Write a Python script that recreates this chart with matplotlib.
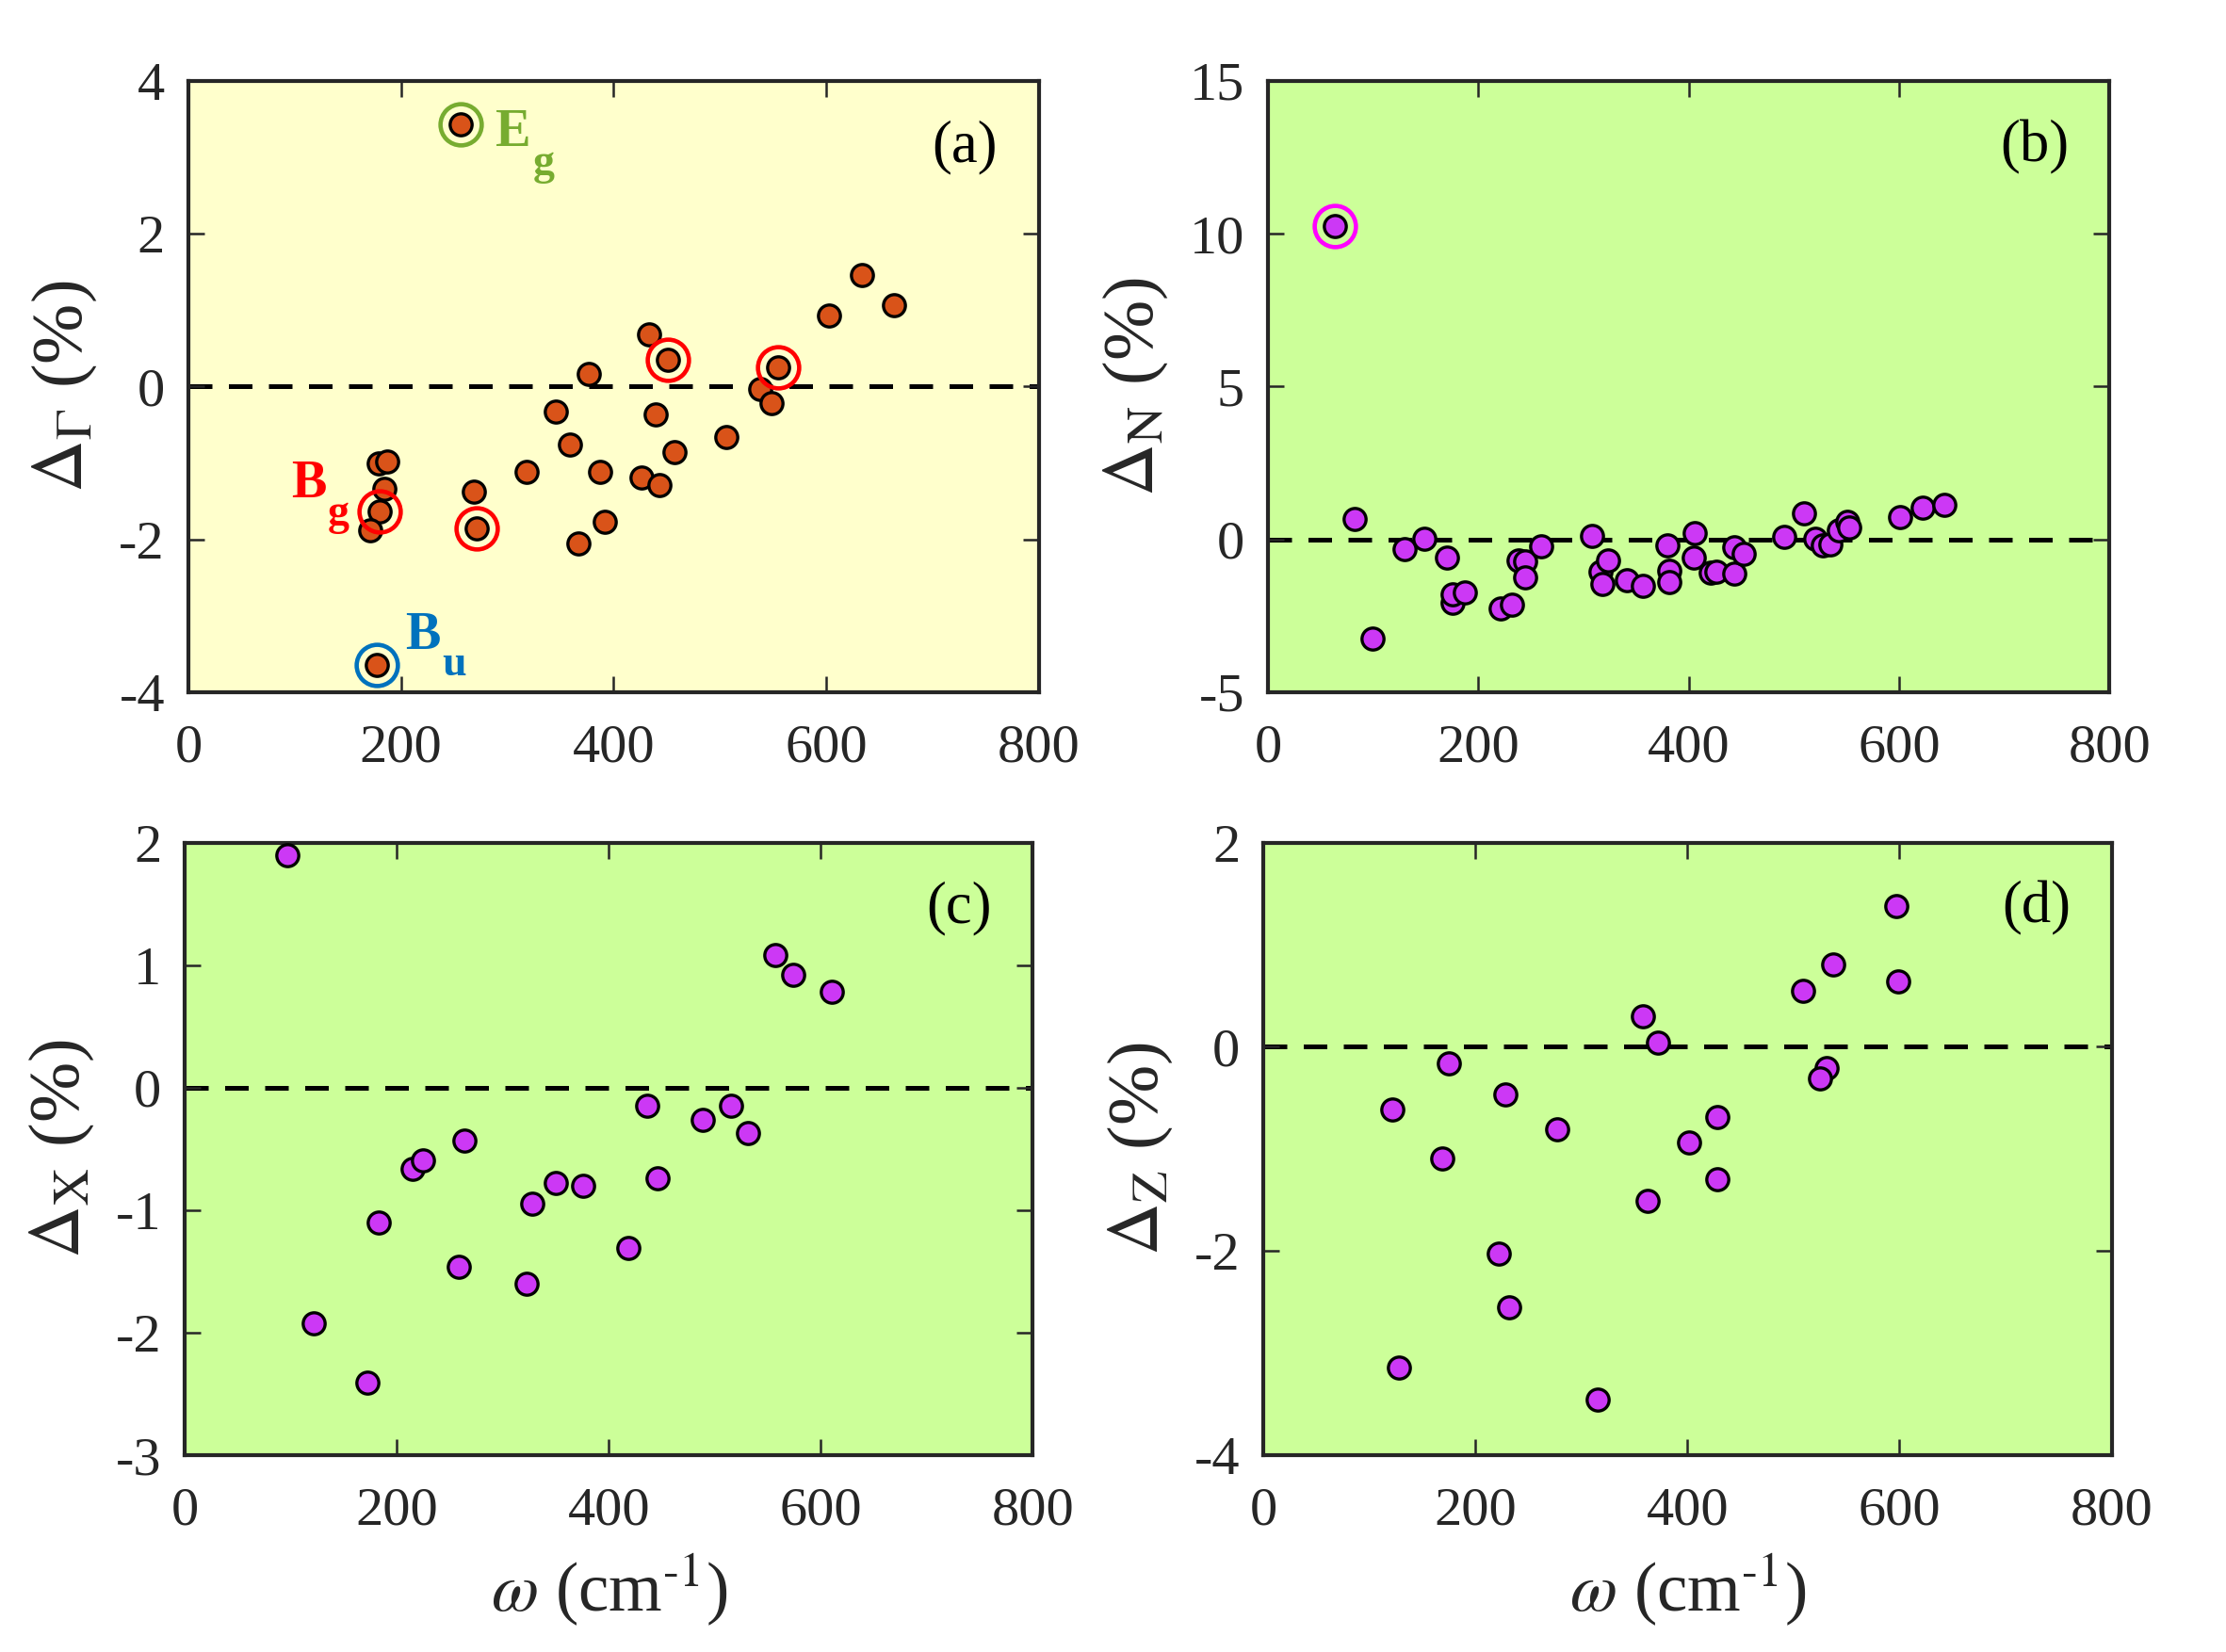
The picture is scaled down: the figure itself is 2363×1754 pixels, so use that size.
import matplotlib
matplotlib.use("Agg")
import matplotlib.pyplot as plt

plt.rcParams['font.family'] = ['Liberation Serif', 'DejaVu Serif']
plt.rcParams['mathtext.fontset'] = 'stix'
plt.rcParams['axes.unicode_minus'] = False

# panel (a): Gamma point, omega (cm-1) and deviation (%)
w_gamma = [256.6, 633.6, 663.6, 603.0, 433.8, 451.0, 554.6, 377.0, 538.0, 548.7,
           345.8, 440.0, 359.0, 457.0, 505.8, 318.4, 387.6, 426.3, 443.5, 269.0,
           271.7, 392.0, 367.0, 178.8, 186.8, 184.7, 180.4, 170.7, 177.7]
d_gamma = [3.43, 1.46, 1.06, 0.93, 0.68, 0.355, 0.246, 0.164, -0.027, -0.22,
           -0.33, -0.37, -0.765, -0.86, -0.656, -1.12, -1.12, -1.19, -1.29, -1.37,
           -1.85, -1.77, -2.05, -1.0, -0.98, -1.34, -1.63, -1.88, -3.64]
eg_idx = [0]
bg_idx = [5, 6, 20, 26]
bu_idx = [28]

# panel (b): N point
w_n = [64.0, 82.5, 99.4, 130.3, 148.8, 170.5, 176.0, 176.0, 186.8, 221.6,
       231.9, 238.0, 244.4, 244.4, 260.0, 308.4, 316.0, 323.6, 318.2, 341.6,
       356.2, 380.0, 381.2, 381.2, 405.6, 404.6, 420.9, 426.8, 443.0, 443.0,
       452.3, 490.4, 510.0, 520.0, 527.8, 534.9, 543.0, 550.6, 552.8, 600.6,
       622.3, 643.5]
d_n = [10.25, 0.68, -3.25, -0.31, 0.03, -0.59, -2.06, -1.79, -1.75, -2.26,
       -2.13, -0.68, -0.72, -1.23, -0.22, 0.12, -1.06, -0.70, -1.47, -1.34,
       -1.51, -0.18, -1.02, -1.40, 0.20, -0.61, -1.10, -1.06, -1.13, -0.25,
       -0.48, 0.07, 0.85, 0.03, -0.18, -0.15, 0.30, 0.57, 0.40, 0.74,
       1.05, 1.12]
n_idx = [0]

# panel (c): X point
w_x = [96.3, 121.6, 172.2, 183.0, 215.2, 224.9, 258.8, 263.7, 322.3, 327.7,
       350.3, 375.6, 418.0, 436.4, 446.0, 488.6, 515.5, 531.6, 556.9, 574.0, 610.7]
d_x = [1.90, -1.92, -2.41, -1.10, -0.66, -0.59, -1.46, -0.43, -1.60, -0.95,
       -0.78, -0.80, -1.31, -0.15, -0.74, -0.26, -0.15, -0.37, 1.08, 0.92, 0.78]

# panel (d): Z point
w_z = [597.3, 537.5, 598.3, 509.0, 357.8, 372.3, 174.9, 531.6, 524.6, 228.1,
       121.1, 428.3, 277.1, 401.4, 168.4, 428.3, 362.7, 221.7, 231.4, 127.5, 315.3]
d_z = [1.38, 0.81, 0.64, 0.55, 0.30, 0.04, -0.16, -0.21, -0.31, -0.47,
       -0.61, -0.69, -0.81, -0.94, -1.09, -1.30, -1.51, -2.02, -2.55, -3.14, -3.45]

orange = '#D95319'
purple = '#CC38F5'
yellow_bg = '#FFFFCC'
green_bg = '#CCFF99'
axcol = '#262626'
xlab = r'$\omega$ (cm$^{\text{-1}}$)'


def style_axes(ax, ylim, yticks, bg):
    ax.set_facecolor(bg)
    ax.set_xlim(0, 800)
    ax.set_xticks([0, 200, 400, 600, 800])
    ax.set_ylim(*ylim)
    ax.set_yticks(yticks)
    ax.tick_params(direction='in', top=True, right=True, length=4, width=0.6,
                   labelsize=14, colors=axcol, labelcolor=axcol)
    ax.tick_params(axis='x', pad=8)
    ax.tick_params(axis='y', pad=6)
    for s in ax.spines.values():
        s.set_linewidth(1.0)
        s.set_color(axcol)
    ax.axhline(0, color='k', ls=(0, (5, 3.5)), lw=1.2, zorder=1)


def dots(ax, w, d, face):
    ax.plot(w, d, 'o', ms=5.6, mfc=face, mec='k', mew=0.8, zorder=3)


def rings(ax, w, d, idx, col):
    ax.plot([w[i] for i in idx], [d[i] for i in idx], 'o', ms=10.5, mfc='none',
            mec=col, mew=1.1, zorder=4)


fig = plt.figure(figsize=(2363 / 300, 1754 / 300), dpi=300)
ax_a = fig.add_axes([0.0846, 0.581, 0.382, 0.370])
ax_b = fig.add_axes([0.5696, 0.581, 0.378, 0.370])
ax_c = fig.add_axes([0.0830, 0.119, 0.381, 0.371])
ax_d = fig.add_axes([0.5676, 0.119, 0.381, 0.371])

# (a)
style_axes(ax_a, (-4, 4), [-4, -2, 0, 2, 4], yellow_bg)
dots(ax_a, w_gamma, d_gamma, orange)
rings(ax_a, w_gamma, d_gamma, eg_idx, '#77AC30')
rings(ax_a, w_gamma, d_gamma, bg_idx, '#FF0000')
rings(ax_a, w_gamma, d_gamma, bu_idx, '#0072BD')
ax_a.text(289, 3.15, 'E', color='#77AC30', fontsize=13.5, fontweight='bold')
ax_a.text(324, 2.78, 'g', color='#77AC30', fontsize=11, fontweight='bold')
ax_a.text(97, -1.45, 'B', color='#FF0000', fontsize=13.5, fontweight='bold')
ax_a.text(131, -1.81, 'g', color='#FF0000', fontsize=11, fontweight='bold')
ax_a.text(204, -3.43, 'B', color='#0072BD', fontsize=13.5, fontweight='bold')
ax_a.text(239, -3.78, 'u', color='#0072BD', fontsize=11, fontweight='bold')
ax_a.set_ylabel(r'$\Delta_{\Gamma}$ (%)', fontsize=18.5, color=axcol, labelpad=5)

# (b)
style_axes(ax_b, (-5, 15), [-5, 0, 5, 10, 15], green_bg)
dots(ax_b, w_n, d_n, purple)
rings(ax_b, w_n, d_n, n_idx, '#FF00FF')
ax_b.set_ylabel(r'$\Delta_{\mathrm{N}}$ (%)', fontsize=18.5, color=axcol, labelpad=5)

# (c)
style_axes(ax_c, (-3, 2), [-3, -2, -1, 0, 1, 2], green_bg)
dots(ax_c, w_x, d_x, purple)
ax_c.set_ylabel(r'$\Delta_{\mathrm{X}}$ (%)', fontsize=18.5, color=axcol, labelpad=5)
ax_c.set_xlabel(xlab, fontsize=17.5, color=axcol, labelpad=4)

# (d)
style_axes(ax_d, (-4, 2), [-4, -2, 0, 2], green_bg)
dots(ax_d, w_z, d_z, purple)
ax_d.set_ylabel(r'$\Delta_{\mathrm{Z}}$ (%)', fontsize=18.5, color=axcol, labelpad=5)
ax_d.set_xlabel(xlab, fontsize=17.5, color=axcol, labelpad=4)

for ax, lab in zip([ax_a, ax_b, ax_c, ax_d], ['(a)', '(b)', '(c)', '(d)']):
    ax.text(0.952, 0.892, lab, transform=ax.transAxes, ha='right', va='center',
            fontsize=15, color='k')

fig.savefig('out.png', dpi=300)
